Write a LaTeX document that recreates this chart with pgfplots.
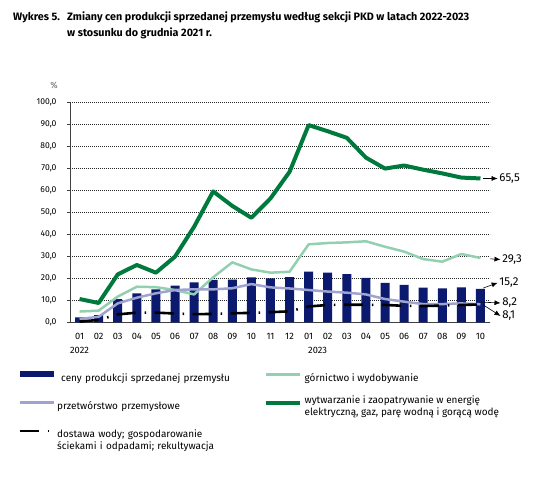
\documentclass[border=0pt]{standalone}
\usepackage{fontspec}
\setmainfont{Fira Sans}
\usepackage{pgfplots}
\usepackage{pgfplotstable}
\pgfplotsset{compat=1.18}
\usetikzlibrary{arrows.meta}
\definecolor{navy}{HTML}{0B1A6E}
\definecolor{egreen}{HTML}{00793D}
\definecolor{lgreen}{HTML}{92D0B0}
\definecolor{lilac}{HTML}{9EA3CF}

\pgfplotstableread{
x bars mining manuf energy water
0  2.3  4.9  1.5 10.6 0.3
1  3.3  5.3  2.5  8.8 1.1
2 10.6 11.7  8.6 21.8 3.6
3 13.2 16.2 11.2 26.1 4.4
4 15.0 16.0 13.2 22.6 4.4
5 16.7 14.7 14.7 29.9 4.0
6 18.2 12.7 15.0 43.5 3.7
7 19.3 20.5 15.0 59.6 3.8
8 19.4 27.3 15.5 53.0 4.1
9 20.5 24.1 17.4 47.6 4.3
10 20.0 22.6 15.9 56.4 4.6
11 20.6 23.0 15.4 68.5 5.0
12 23.1 35.5 14.7 89.8 7.2
13 22.6 36.1 14.0 87.0 7.9
14 21.9 36.4 13.5 84.0 8.0
15 20.2 36.9 12.7 75.0 8.0
16 17.9 34.4 10.6 70.0 7.9
17 17.0 32.2  9.4 71.4 7.5
18 15.8 28.8  8.3 69.5 7.4
19 15.5 27.6  8.3 67.8 7.6
20 15.9 31.1  8.6 65.9 7.9
21 15.2 29.3  8.2 65.5 8.1
}\data

\begin{document}
\begin{tikzpicture}
\path[use as bounding box] (-70bp,322.3bp) rectangle (488bp,-167.7bp);
\node[anchor=base west, inner sep=0pt, font=\bfseries\fontsize{10.8}{12}\selectfont] at (-57bp,301.8bp) {Wykres 5.};
\node[anchor=base west, inner sep=0pt, font=\bfseries\fontsize{10.8}{12}\selectfont] at (-3bp,301.8bp) {Zmiany cen produkcji sprzedanej przemysłu według sekcji PKD w latach 2022-2023};
\node[anchor=base west, inner sep=0pt, font=\bfseries\fontsize{10.8}{12}\selectfont] at (-3bp,285.8bp) {w stosunku do grudnia 2021 r.};
\begin{axis}[
  at={(0,0)}, anchor=south west,
  scale only axis, width=420bp, height=219.6bp,
  xmin=-0.5, xmax=21.5, ymin=0, ymax=100,
  clip=false,
  axis x line*=bottom, axis y line*=left,
  axis line style={black!75, line width=0.9bp},
  ytick={0,10,...,100},
  ymajorgrids,
  major grid style={black!85, line width=0.5bp, dash pattern=on 1.2bp off 0.8bp},
  y tick style={black!75, line width=0.6bp},
  ytick align=outside, major tick length=3bp,
  xtick={0,...,21},
  xticklabels={{01\\2022},02,03,04,05,06,07,08,09,10,11,12,{01\\\hspace*{18bp}2023},02,03,04,05,06,07,08,09,10},
  x tick style={draw=none},
  minor xtick={-0.5,0.5,...,21.5},
  minor x tick style={black!75, line width=0.6bp},
  minor tick length=3bp,
  xticklabel style={font=\fontsize{9.3}{14}\selectfont, align=center, yshift=-7bp},
  yticklabel style={font=\fontsize{8.6}{10}\selectfont, xshift=-7bp},
  /pgf/number format/.cd, fixed, fixed zerofill, precision=1, use comma, assume math mode=true,
  /pgfplots/.cd,
  legend columns=2,
  legend style={at={(axis description cs:-0.1238,-0.222)}, anchor=north west,
    draw=none, fill=none, inner sep=0pt,
    font=\fontsize{10}{12}\selectfont,
    row sep=9bp,
    cells={align=left},
    /tikz/column 2/.style={text width=205bp},
  },
  legend cell align=left,
]
\addplot[ybar, bar width=9bp, fill=navy, draw=none,
  legend image code/.code={\fill[navy] (0bp,0.5bp) rectangle (34bp,6.5bp);}]
  table[x=x,y=bars]{\data};
\addlegendentry{\hspace*{4bp}ceny produkcji sprzedanej przemysłu\rule[-12bp]{0pt}{12bp}}
\addplot[lgreen, line width=2.5bp, line join=round,
  legend image code/.code={\draw[lgreen, line width=3bp] (0bp,3.5bp) -- (34bp,3.5bp);}]
  table[x=x,y=mining]{\data};
\addlegendentry{górnictwo i wydobywanie}
\addplot[lilac, line width=2.5bp, line join=round,
  legend image code/.code={\draw[lilac, line width=3bp] (0bp,3.5bp) -- (34bp,3.5bp);}]
  table[x=x,y=manuf]{\data};
\addlegendentry{przetwórstwo przemysłowe}
\addplot[egreen, line width=4bp, line join=round,
  legend image code/.code={\draw[egreen, line width=4.5bp] (0bp,3.5bp) -- (34bp,3.5bp);}]
  table[x=x,y=energy]{\data};
\addlegendentry{wytwarzanie i zaopatrywanie w energię\\elektryczną, gaz, parę wodną i gorącą wodę}
\addplot[black, line width=2.6bp, dash pattern=on 19bp off 9bp on 1.5bp off 8.5bp,
  legend image code/.code={\draw[black, line width=2.6bp, dash pattern=on 19bp off 9bp on 1.5bp off 8.5bp] (0bp,3.5bp) -- (34bp,3.5bp);}]
  table[x=x,y=water]{\data};
\addlegendentry{dostawa wody; gospodarowanie\\ściekami i odpadami; rekultywacja}

\node[font=\fontsize{9}{10}\selectfont, text=black!60] at (axis description cs:-0.038,1.08) {\%};

\begin{scope}[every node/.style={font=\fontsize{11.5}{12}\selectfont, right, inner sep=1.5bp}]
\draw[black, line width=0.6bp, -{Latex[length=6bp,width=5bp]}] (axis cs:21.15,65.5) -- (axis cs:21.9,65.5) node {65,5};
\draw[black, line width=0.6bp, -{Latex[length=6bp,width=5bp]}] (axis cs:21.5,28.9) -- (axis cs:22.05,28.6) node {29,3};
\draw[black, line width=0.6bp, -{Latex[length=6bp,width=5bp]}] (axis cs:21.15,15.6) -- (axis cs:21.9,18.0) node {15,2};
\draw[black, line width=0.6bp, -{Latex[length=6bp,width=5bp]}] (axis cs:21.0,9.2) -- (axis cs:22.05,8.8) node {8,2};
\draw[black, line width=0.6bp, -{Latex[length=6bp,width=5bp]}] (axis cs:21.15,7.9) -- (axis cs:22.05,2.9) node {8,1};
\end{scope}
\end{axis}
\end{tikzpicture}
\end{document}
